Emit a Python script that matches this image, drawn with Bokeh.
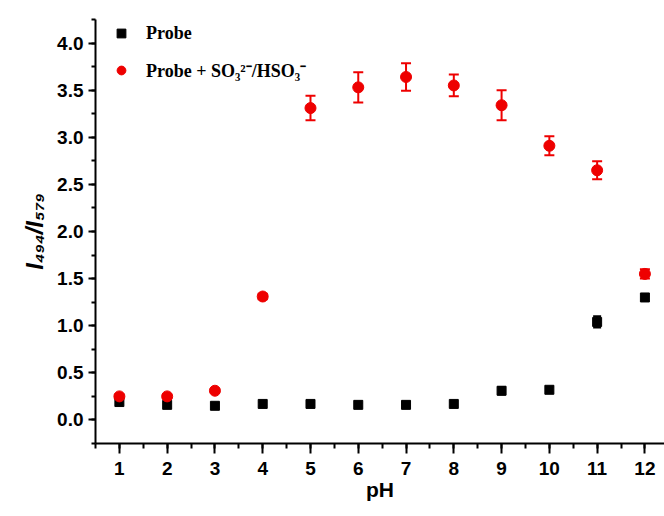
from bokeh.plotting import figure
from bokeh.models import (ColumnDataSource, Range1d, SingleIntervalTicker, Whisker,
                          TeeHead, Legend, LegendItem, NumeralTickFormatter)
from bokeh.embed import file_html
from bokeh.resources import INLINE

# ---- data ----
ph = [1, 2, 3, 4, 5, 6, 7, 8, 9, 10, 11, 12]
probe = [0.19, 0.16, 0.15, 0.17, 0.17, 0.16, 0.16, 0.17, 0.31, 0.32, 1.04, 1.30]
probe_err = [0.02, 0.02, 0.02, 0.02, 0.02, 0.02, 0.02, 0.02, 0.04, 0.03, 0.06, 0.03]
probe_so3 = [0.25, 0.25, 0.31, 1.31, 3.31, 3.53, 3.64, 3.55, 3.34, 2.91, 2.65, 1.55]
probe_so3_err = [0.02, 0.02, 0.02, 0.03, 0.13, 0.16, 0.145, 0.115, 0.16, 0.10, 0.095, 0.05]

src_a = ColumnDataSource(dict(x=ph, y=probe,
                              lo=[v - e for v, e in zip(probe, probe_err)],
                              hi=[v + e for v, e in zip(probe, probe_err)]))
src_b = ColumnDataSource(dict(x=ph, y=probe_so3,
                              lo=[v - e for v, e in zip(probe_so3, probe_so3_err)],
                              hi=[v + e for v, e in zip(probe_so3, probe_so3_err)]))

p = figure(width=664, height=516, output_backend="svg", toolbar_location=None,
           x_range=Range1d(0.5, 12.41), y_range=Range1d(-0.25, 4.25),
           min_border_left=95, min_border_right=0, min_border_top=19, min_border_bottom=73)
p.outline_line_color = None
p.xgrid.visible = False
p.ygrid.visible = False
p.background_fill_color = "white"
p.border_fill_color = "white"

RED = "#ee0000"

p.add_layout(Whisker(source=src_a, base="x", upper="hi", lower="lo", line_color="black", line_width=2,
                     upper_head=TeeHead(size=8, line_color="black", line_width=2),
                     lower_head=TeeHead(size=8, line_color="black", line_width=2)))
p.add_layout(Whisker(source=src_b, base="x", upper="hi", lower="lo", line_color=RED, line_width=2,
                     upper_head=TeeHead(size=10, line_color=RED, line_width=2),
                     lower_head=TeeHead(size=10, line_color=RED, line_width=2)))

r_a = p.scatter("x", "y", source=src_a, marker="square", size=9, fill_color="black", line_color="black")
r_b = p.scatter("x", "y", source=src_b, marker="circle", size=11, fill_color=RED, line_color=RED)

for ax in (p.xaxis[0], p.yaxis[0]):
    ax.axis_line_width = 2
    ax.axis_line_color = "black"
    ax.major_tick_line_width = 2
    ax.minor_tick_line_width = 2
    ax.major_tick_in = 0
    ax.minor_tick_in = 0
    ax.major_label_text_font = "Liberation Sans"
    ax.major_label_text_font_style = "bold"
    ax.major_label_text_font_size = "19px"
    ax.major_label_text_color = "black"
    ax.axis_label_text_font = "Liberation Sans"
    ax.axis_label_text_color = "black"

p.xaxis.ticker = SingleIntervalTicker(interval=1, num_minor_ticks=2)
p.xaxis.major_tick_out = 10
p.xaxis.minor_tick_out = 5
p.xaxis.major_label_standoff = 8
p.xaxis.axis_label = "pH"
p.xaxis.axis_label_text_font_size = "21px"
p.xaxis.axis_label_text_font_style = "bold"
p.xaxis.axis_label_standoff = 0

p.yaxis.ticker = SingleIntervalTicker(interval=0.5, num_minor_ticks=2)
p.yaxis.formatter = NumeralTickFormatter(format="0.0")
p.yaxis.major_tick_out = 7
p.yaxis.minor_tick_out = 4
p.yaxis.major_label_standoff = 5
p.yaxis.axis_label = "I₄₉₄/I₅₇₉"
p.yaxis.axis_label_text_font_size = "24px"
p.yaxis.axis_label_text_font_style = "bold italic"
p.yaxis.axis_label_standoff = 6

legend = Legend(items=[LegendItem(label="Probe", renderers=[r_a]),
                       LegendItem(label="Probe + SO₃²⁻/HSO₃⁻", renderers=[r_b])],
                location=(15, 361), margin=0, padding=0,
                glyph_width=22, glyph_height=22, label_height=22, spacing=14,
                label_standoff=14, label_text_font="Liberation Serif",
                label_text_font_style="bold", label_text_font_size="18px",
                label_text_color="black",
                border_line_color=None, background_fill_alpha=0)
p.add_layout(legend)

open("out.html", "w").write(file_html(p, INLINE))
